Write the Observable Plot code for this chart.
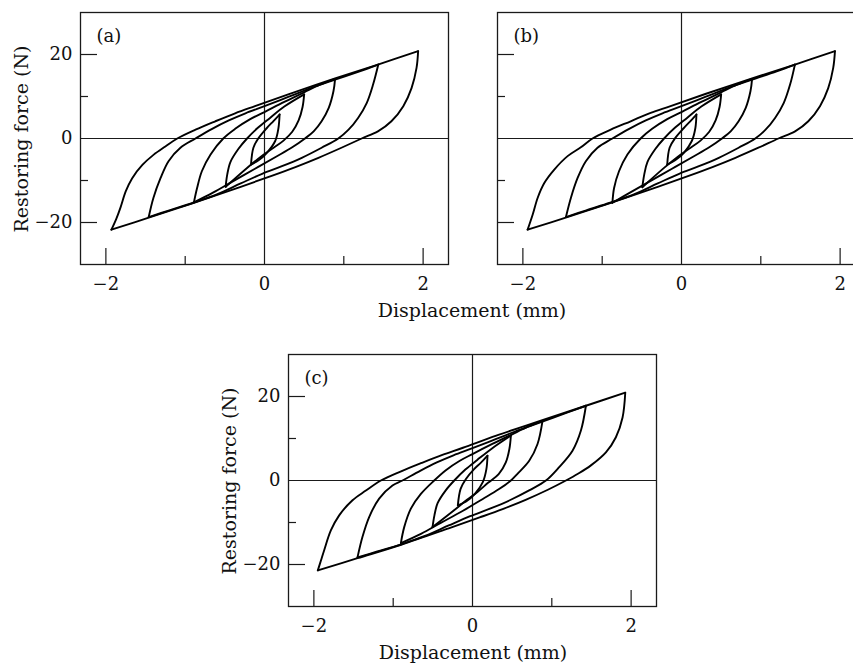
<!DOCTYPE html>
<html><head><meta charset="utf-8">
<script src="https://cdn.jsdelivr.net/npm/d3@7"></script>
<script src="https://cdn.jsdelivr.net/npm/@observablehq/plot@0.6"></script>
<style>
body{margin:0;background:#fff;}
#wrap{position:relative;width:853px;height:664px;overflow:hidden;font-family:"DejaVu Serif",serif;color:#111;}
.panel{position:absolute;}
.ttl{position:absolute;font-size:19px;line-height:22px;white-space:nowrap;}
.rot{transform:translate(-50%,-50%) rotate(-90deg);}
.hor{transform:translateX(-50%);}
</style></head><body><div id="wrap"></div>
<script>
// axis values
const xDomain = [-2.32, 2.32];
const yDomain = [-30, 30];
const xLabelTicks = [-2, 0, 2];
const xMajorTicks = [-2, 2];
const xMinorTicks = [-1, 1];
const yLabelTicks = [-20, 0, 20];
const yMajorTicks = [-20, 20];
const yMinorTicks = [-10, 10];
const panelLetters = ["(a)", "(b)", "(c)"];
const xTitle = "Displacement (mm)";
const yTitle = "Restoring force (N)";

// Panel (a): each loop = [loading branch, unloading branch], [displacement mm, force N]
const a1 = [
  [[-0.17,-6.2],[-0.14,-2.2],[-0.075,0.1],[0.03,2.5],[0.11,4.1],[0.19,5.7]],
  [[0.19,5.7],[0.176,2.5],[0.135,-0.6],[0.03,-3.4],[-0.075,-5.2],[-0.17,-6.2]]
];
const a2 = [
  [[-0.49,-11.5],[-0.47,-8.6],[-0.43,-5.6],[-0.33,-2.5],[-0.22,0],[-0.08,2.6],[0.07,4.9],[0.25,7.6],[0.5,10.5]],
  [[0.5,10.5],[0.48,7.5],[0.43,4.3],[0.35,1.6],[0.24,-0.5],[0.1,-2.4],[-0.05,-4.4],[-0.22,-7.0],[-0.49,-11.5]]
];
const a3 = [
  [[-0.89,-15.2],[-0.85,-11.8],[-0.79,-7.8],[-0.68,-3.8],[-0.52,0],[-0.37,2.3],[-0.18,4.6],[0,6.3],[0.25,8.7],[0.5,11.0],[0.7,12.8],[0.89,14.2]],
  [[0.89,14.2],[0.87,11.3],[0.81,7.3],[0.72,4.1],[0.62,1.7],[0.51,0],[0.35,-2.1],[0.14,-4.4],[-0.12,-7.2],[-0.4,-10.2],[-0.65,-12.9],[-0.89,-15.2]]
];
const a4 = [
  [[-1.46,-18.7],[-1.40,-14.1],[-1.31,-9.4],[-1.21,-5.4],[-1.06,-2.2],[-0.87,0],[-0.66,2.3],[-0.45,4.3],[-0.24,6.0],[0,7.7],[0.3,9.9],[0.6,12.1],[0.89,14.0],[1.2,16.0],[1.435,17.6]],
  [[1.435,17.6],[1.37,12.9],[1.29,8.5],[1.18,4.9],[1.06,2.1],[0.93,0],[0.72,-2.2],[0.47,-4.6],[0.22,-6.6],[-0.03,-8.4],[-0.3,-10.7],[-0.6,-13.3],[-0.9,-15.3],[-1.2,-17.1],[-1.46,-18.7]]
];
const a5 = [
  [[-1.93,-21.7],[-1.87,-19.2],[-1.815,-16.4],[-1.75,-12.6],[-1.67,-9.5],[-1.54,-6.3],[-1.40,-3.9],[-1.25,-1.9],[-1.10,0],[-0.87,2.1],[-0.62,4.1],[-0.37,6.0],[-0.12,7.7],[0.3,10.5],[0.89,14.3],[1.43,17.6],[1.937,20.8]],
  [[1.937,20.8],[1.917,16.8],[1.854,12.0],[1.75,7.7],[1.60,4.1],[1.43,1.7],[1.225,0],[0.97,-2.2],[0.68,-4.6],[0.39,-6.8],[0.09,-8.9],[-0.3,-11.5],[-0.9,-15.4],[-1.45,-18.8],[-1.93,-21.7]]
];

// Panel (b)
const b1 = [
  [[-0.18,-6.2],[-0.15,-2.2],[-0.08,0.1],[0.03,2.5],[0.11,4.1],[0.188,5.7]],
  [[0.188,5.7],[0.175,2.5],[0.13,-0.6],[0.03,-3.4],[-0.08,-5.2],[-0.18,-6.2]]
];
const b2 = [
  [[-0.494,-11.6],[-0.47,-8.6],[-0.43,-5.6],[-0.33,-2.5],[-0.22,0],[-0.08,2.6],[0.07,4.9],[0.25,7.6],[0.5,10.5]],
  [[0.5,10.5],[0.48,7.5],[0.43,4.3],[0.35,1.6],[0.24,-0.5],[0.1,-2.4],[-0.05,-4.4],[-0.22,-7.0],[-0.494,-11.6]]
];
const b3 = [
  [[-0.871,-15.3],[-0.85,-11.8],[-0.788,-7.8],[-0.682,-3.8],[-0.515,0],[-0.37,2.3],[-0.18,4.6],[0,6.3],[0.25,8.7],[0.5,11.0],[0.7,12.8],[0.89,14.2]],
  [[0.89,14.2],[0.87,11.3],[0.81,7.3],[0.72,4.1],[0.62,1.7],[0.51,0],[0.35,-2.1],[0.14,-4.4],[-0.12,-7.2],[-0.4,-10.2],[-0.65,-12.9],[-0.871,-15.3]]
];
const b4 = [
  [[-1.457,-18.7],[-1.394,-14.1],[-1.31,-9.4],[-1.206,-5.4],[-1.059,-2.2],[-0.871,0],[-0.66,2.3],[-0.45,4.3],[-0.24,6.0],[0,7.7],[0.3,9.9],[0.6,12.1],[0.89,14.0],[1.2,16.0],[1.43,17.6]],
  [[1.43,17.6],[1.37,12.9],[1.29,8.5],[1.18,4.9],[1.06,2.1],[0.93,0],[0.72,-2.2],[0.47,-4.6],[0.22,-6.6],[-0.03,-8.4],[-0.3,-10.7],[-0.6,-13.3],[-0.9,-15.3],[-1.2,-17.1],[-1.457,-18.7]]
];
const b5 = [
  [[-1.94,-21.7],[-1.876,-18.1],[-1.813,-14.1],[-1.73,-10.6],[-1.604,-7.4],[-1.436,-4.2],[-1.269,-2.1],[-1.122,0],[-0.892,2.1],[-0.641,4.1],[-0.389,6.1],[-0.138,7.7],[0.3,10.6],[0.89,14.3],[1.43,17.6],[1.935,20.8]],
  [[1.935,20.8],[1.913,16.8],[1.85,12.0],[1.746,7.7],[1.599,4.1],[1.432,1.7],[1.222,0],[0.97,-2.2],[0.68,-4.6],[0.39,-6.8],[0.09,-8.9],[-0.3,-11.5],[-0.9,-15.4],[-1.45,-18.8],[-1.94,-21.7]]
];

// Panel (c)
const c1 = [
  [[-0.185,-5.9],[-0.15,-2.0],[-0.085,0.3],[0.02,2.7],[0.11,4.3],[0.189,5.9]],
  [[0.189,5.9],[0.175,2.7],[0.13,-0.4],[0.03,-3.2],[-0.08,-5.0],[-0.185,-5.9]]
];
const c2 = [
  [[-0.504,-11.1],[-0.48,-8.3],[-0.44,-5.4],[-0.34,-2.4],[-0.23,0],[-0.09,2.6],[0.06,4.9],[0.25,7.7],[0.484,10.7]],
  [[0.484,10.7],[0.465,7.5],[0.42,4.3],[0.33,1.5],[0.2,-0.5],[0.07,-2.6],[-0.07,-4.6],[-0.24,-7.2],[-0.504,-11.1]]
];
const c3 = [
  [[-0.903,-14.9],[-0.861,-11.1],[-0.777,-6.7],[-0.651,-3.2],[-0.483,0],[-0.34,2.4],[-0.16,4.7],[0,6.3],[0.25,8.7],[0.5,11.0],[0.7,12.8],[0.883,14.2]],
  [[0.883,14.2],[0.82,8.7],[0.715,4.7],[0.567,1.6],[0.484,0],[0.33,-2.1],[0.13,-4.4],[-0.12,-7.2],[-0.4,-10.1],[-0.65,-12.7],[-0.903,-14.9]]
];
const c4 = [
  [[-1.45,-18.3],[-1.387,-13.4],[-1.303,-8.7],[-1.177,-4.3],[-1.009,-1.2],[-0.883,0],[-0.66,2.3],[-0.45,4.3],[-0.24,6.0],[0,7.7],[0.3,9.9],[0.6,12.1],[0.89,14.1],[1.2,16.2],[1.43,17.8]],
  [[1.43,17.8],[1.367,11.9],[1.261,7.1],[1.093,3.2],[0.926,0],[0.72,-2.3],[0.47,-4.7],[0.22,-6.7],[-0.03,-8.5],[-0.3,-10.7],[-0.6,-13.2],[-0.9,-15.2],[-1.2,-16.9],[-1.45,-18.3]]
];
const c5 = [
  [[-1.95,-21.4],[-1.91,-19.0],[-1.87,-16.6],[-1.786,-11.9],[-1.681,-8.3],[-1.513,-4.7],[-1.344,-2.4],[-1.155,0],[-0.9,2.2],[-0.64,4.2],[-0.38,6.1],[-0.12,7.8],[0.3,10.7],[0.89,14.4],[1.43,17.8],[1.926,20.9]],
  [[1.926,20.9],[1.892,15.0],[1.808,10.3],[1.682,6.7],[1.493,3.6],[1.33,1.6],[1.178,0],[0.95,-2.2],[0.67,-4.6],[0.38,-6.8],[0.09,-8.8],[-0.3,-11.4],[-0.9,-15.3],[-1.45,-18.5],[-1.95,-21.4]]
];

function rowsFrom(loops) {
  const rows = [];
  loops.forEach((loop, i) => loop.forEach((branch, j) =>
    branch.forEach(([x, y]) => rows.push({x, y, id: i + "-" + j}))));
  return rows;
}

const W = 460, H = 300, ML = 80, MR = 12, MT = 12, MB = 36;
const FW = W - ML - MR, FH = H - MT - MB;
const ink = "#1a1a1a";

function panel(loops, letter, showY) {
  const marks = [
    Plot.frame({stroke: ink, strokeWidth: 1.3}),
    Plot.ruleX([0], {stroke: ink, strokeWidth: 1.2}),
    Plot.ruleY([0], {stroke: ink, strokeWidth: 1.2}),
    Plot.ruleX(xMajorTicks, {stroke: ink, strokeWidth: 1.2, insetTop: FH - 16}),
    Plot.ruleX(xMinorTicks, {stroke: ink, strokeWidth: 1.2, insetTop: FH - 8}),
    Plot.ruleY(yMajorTicks, {stroke: ink, strokeWidth: 1.2, insetRight: FW - 17}),
    Plot.ruleY(yMinorTicks, {stroke: ink, strokeWidth: 1.2, insetRight: FW - 8}),
    Plot.line(rowsFrom(loops), {x: "x", y: "y", z: "id", curve: "catmull-rom", stroke: "#000", strokeWidth: 1.9}),
    Plot.text([letter], {text: d => d, frameAnchor: "top-left", dx: 16, dy: 17, textAnchor: "start", lineAnchor: "top", fontSize: 18, fill: "#111"}),
    Plot.axisX(xLabelTicks, {tickSize: 0, tickPadding: 13, label: null, fontSize: 18})
  ];
  if (showY) marks.push(Plot.axisY(yLabelTicks, {tickSize: 0, tickPadding: 8, label: null, fontSize: 18}));
  return Plot.plot({
    width: W, height: H, marginLeft: ML, marginRight: MR, marginTop: MT, marginBottom: MB,
    style: {fontFamily: "'DejaVu Serif', serif", fontSize: "18px", color: "#111", background: "transparent", overflow: "visible"},
    x: {domain: xDomain, label: null},
    y: showY ? {domain: yDomain, label: null} : {domain: yDomain, label: null, axis: null},
    marks
  });
}

const wrap = document.getElementById("wrap");
function place(el, left, top) {
  el.classList.add("panel");
  el.style.left = left + "px";
  el.style.top = top + "px";
  wrap.appendChild(el);
}
function title(text, cls, left, top) {
  const d = document.createElement("div");
  d.className = "ttl " + cls;
  d.textContent = text;
  d.style.left = left + "px";
  d.style.top = top + "px";
  wrap.appendChild(d);
}

place(panel([a1, a2, a3, a4, a5], panelLetters[0], true), 0, 0);
place(panel([b1, b2, b3, b4, b5], panelLetters[1], false), 417, 0);
place(panel([c1, c2, c3, c4, c5], panelLetters[2], true), 208, 342);

title(yTitle, "rot", 21, 139);
title(yTitle, "rot", 229, 481);
title(xTitle, "hor", 472, 299);
title(xTitle, "hor", 473, 641);
</script></body></html>
